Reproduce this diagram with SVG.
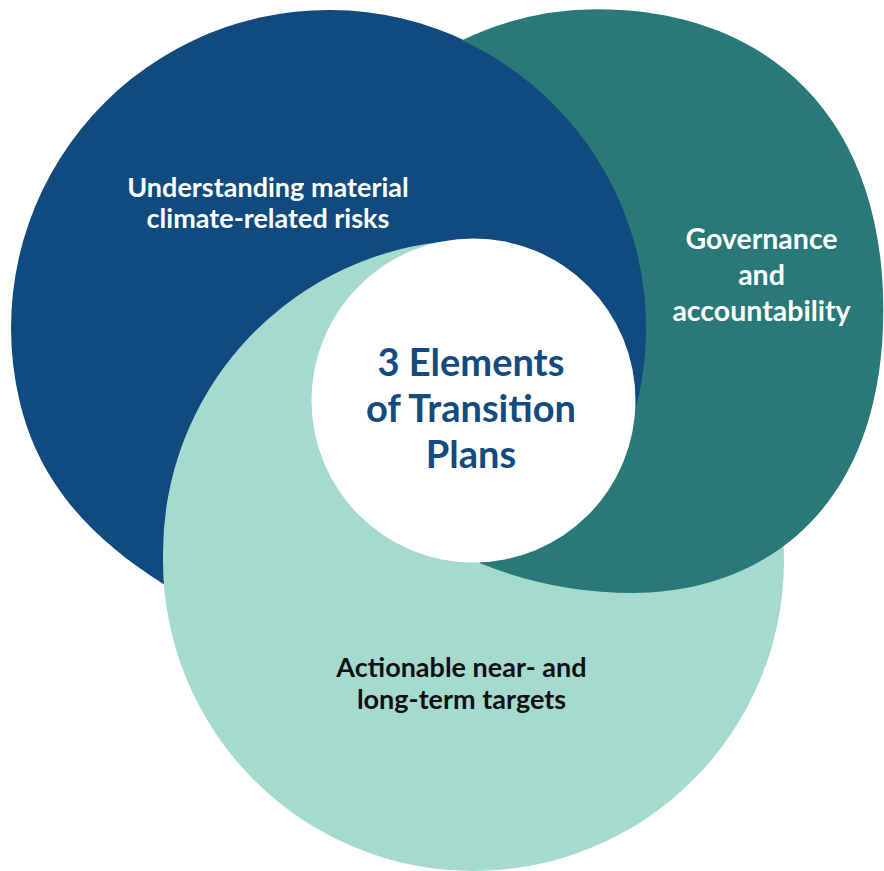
<svg xmlns="http://www.w3.org/2000/svg" width="884" height="871" viewBox="0 0 884 871">
<style>
.lbl{font-family:Lato,"Liberation Sans",sans-serif;font-weight:700;text-anchor:middle}
.w{fill:#ffffff}
.k{fill:#111111}
.ctr{font-family:Lato,"Liberation Sans",sans-serif;font-weight:700;font-size:38px;fill:#134B7E;text-anchor:middle}
.teal{fill:#2A7979}
.blue{fill:#104A7E}
.green{fill:#A5DBCE}
</style>
<rect width="884" height="871" fill="#ffffff"/>
<g id="blue">
<path class="blue" d="M190,602 L163.3,584 C91.4,538.7 38.5,482.8 19.3,400 A318,318 0 1 1 637.8,404 L600,430 L360,470 Z"/>
<text class="lbl w" x="268" y="197" font-size="27">Understanding material</text>
<text class="lbl w" x="268" y="228" font-size="27">climate-related risks</text>
</g>
<g id="green">
<path class="green" d="M440,242 A313,313 0 0 0 163,553 L163,560.5 A310.5,310.5 0 0 0 784,560.5 A310.5,310.5 0 0 0 755.2,430 L600,440 L460,520 Z"/>
<text class="lbl k" x="461.5" y="677" font-size="27">Actionable near- and</text>
<text class="lbl k" x="461.5" y="709" font-size="27">long-term targets</text>
</g>
<g id="teal">
<path class="teal" d="M462,40.3 A311.8,311.8 0 0 1 597,9.3 C763,9.3 883.3,111.5 883.3,310 C883.3,513.8 758.2,593 633,593 A408.9,408.9 0 0 1 480,563.3 L470,520 L600,430 L636.8,404 A317,317 0 0 0 462,40.3 Z"/>
<text class="lbl w" x="761.5" y="249" font-size="28.5">Governance</text>
<text class="lbl w" x="761.5" y="285" font-size="28.5">and</text>
<text class="lbl w" x="761.5" y="321" font-size="28.5">accountability</text>
</g>
<g id="center">
<circle cx="473.5" cy="400.5" r="162" fill="#ffffff"/>
<text class="ctr" x="471" y="376">3 Elements</text>
<text class="ctr" x="471" y="422">of Transition</text>
<text class="ctr" x="471" y="468">Plans</text>
</g>
</svg>
